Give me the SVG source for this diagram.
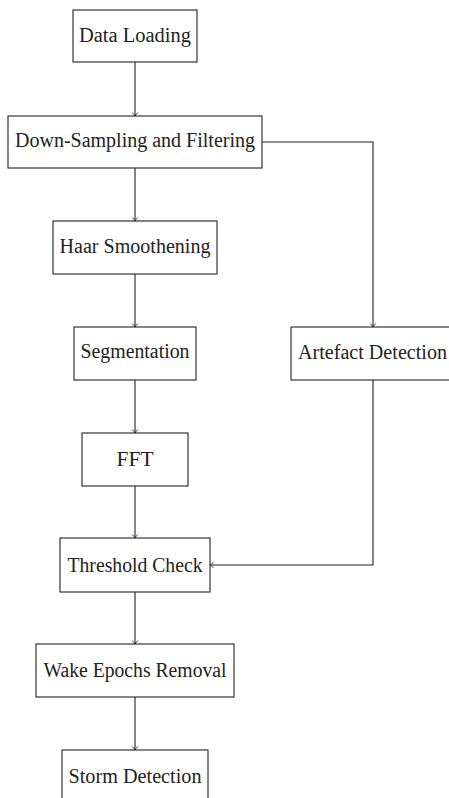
<svg xmlns="http://www.w3.org/2000/svg" width="449" height="798" viewBox="0 0 449 798">
<style>
.box{fill:#fff;stroke:#222;stroke-width:1.1}
.lbl{font-family:"Liberation Serif","DejaVu Serif",serif;font-size:20px;fill:#222;text-anchor:middle}
.edge{fill:none;stroke:#222;stroke-width:1.1}
</style>
<defs>
<marker id="arr" markerUnits="userSpaceOnUse" markerWidth="10" markerHeight="10" refX="0" refY="0" viewBox="-5 -5 10 10" orient="auto">
<path d="M-3.5,-2.8 Q-1.2,-0.6 0,0 Q-1.2,0.6 -3.5,2.8" fill="none" stroke="#222" stroke-width="0.9"/>
</marker>
</defs>
<rect width="449" height="798" fill="#fff"/>
<g id="connectors">
<path class="edge" d="M135,62 V116" marker-end="url(#arr)"/>
<path class="edge" d="M135,168 V221" marker-end="url(#arr)"/>
<path class="edge" d="M135,274 V327" marker-end="url(#arr)"/>
<path class="edge" d="M135,380 V433" marker-end="url(#arr)"/>
<path class="edge" d="M135,486 V538" marker-end="url(#arr)"/>
<path class="edge" d="M135,592 V644" marker-end="url(#arr)"/>
<path class="edge" d="M135,697 V750" marker-end="url(#arr)"/>
<path class="edge" d="M262,142 H373 V327" marker-end="url(#arr)"/>
<path class="edge" d="M373,380 V565 H210" marker-end="url(#arr)"/>
</g>
<g id="data-loading"><rect class="box" x="73" y="10" width="124" height="52"/><text class="lbl" x="135" y="41.7" textLength="112" lengthAdjust="spacingAndGlyphs">Data Loading</text></g>
<g id="down-sampling"><rect class="box" x="8" y="116" width="254" height="52"/><text class="lbl" x="135" y="147.3" textLength="240" lengthAdjust="spacingAndGlyphs">Down-Sampling and Filtering</text></g>
<g id="haar"><rect class="box" x="53" y="221" width="164" height="53"/><text class="lbl" x="135" y="252.7" textLength="151" lengthAdjust="spacingAndGlyphs">Haar Smoothening</text></g>
<g id="segmentation"><rect class="box" x="74" y="327" width="122" height="53"/><text class="lbl" x="135" y="358.3" textLength="109" lengthAdjust="spacingAndGlyphs">Segmentation</text></g>
<g id="artefact"><rect class="box" x="291" y="327" width="164" height="53"/><text class="lbl" x="372.5" y="358.7" textLength="149" lengthAdjust="spacingAndGlyphs">Artefact Detection</text></g>
<g id="fft"><rect class="box" x="82" y="433" width="106" height="53"/><text class="lbl" x="135" y="466" textLength="37" lengthAdjust="spacingAndGlyphs">FFT</text></g>
<g id="threshold"><rect class="box" x="60" y="538" width="150" height="54"/><text class="lbl" x="135" y="571.7" textLength="135" lengthAdjust="spacingAndGlyphs">Threshold Check</text></g>
<g id="wake"><rect class="box" x="36" y="644" width="198" height="53"/><text class="lbl" x="135" y="676.7" textLength="183" lengthAdjust="spacingAndGlyphs">Wake Epochs Removal</text></g>
<g id="storm"><rect class="box" x="62" y="750" width="146" height="53"/><text class="lbl" x="135" y="782.7" textLength="133" lengthAdjust="spacingAndGlyphs">Storm Detection</text></g>
</svg>
